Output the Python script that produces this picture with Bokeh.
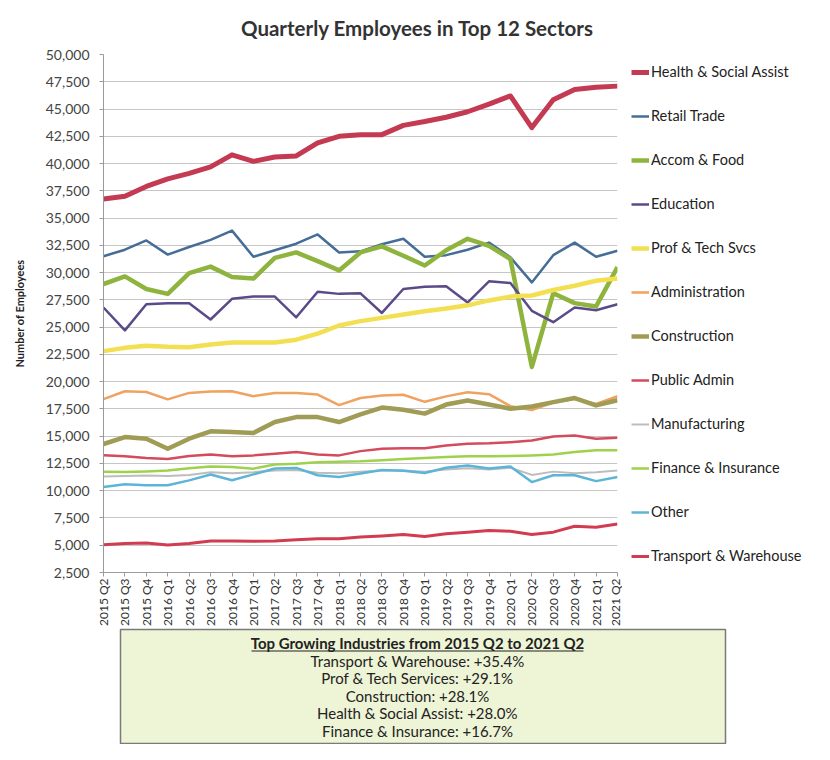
import math
from bokeh.plotting import figure
from bokeh.layouts import column, row
from bokeh.models import (Range1d, FixedTicker, NumeralTickFormatter, Legend,
                          LegendItem, Label, BoxAnnotation)
from bokeh.embed import file_html
from bokeh.resources import INLINE

quarters = ["2015 Q2", "2015 Q3", "2015 Q4",
            "2016 Q1", "2016 Q2", "2016 Q3", "2016 Q4",
            "2017 Q1", "2017 Q2", "2017 Q3", "2017 Q4",
            "2018 Q1", "2018 Q2", "2018 Q3", "2018 Q4",
            "2019 Q1", "2019 Q2", "2019 Q3", "2019 Q4",
            "2020 Q1", "2020 Q2", "2020 Q3", "2020 Q4",
            "2021 Q1", "2021 Q2"]

health = [36750, 37000, 37900, 38600, 39100, 39700, 40800, 40200, 40600, 40700,
          41900, 42500, 42650, 42650, 43500, 43850, 44250, 44750, 45450, 46200,
          43300, 45850, 46800, 47000, 47100]
retail = [31500, 32100, 32950, 31650, 32350, 33000, 33850, 31450, 32050, 32650,
          33500, 31850, 31950, 32600, 33100, 31450, 31600, 32100, 32750, 31400,
          29100, 31600, 32750, 31450, 32000]
accom = [28950, 29650, 28500, 28050, 29950, 30550, 29600, 29450, 31350, 31850,
         31050, 30200, 31850, 32400, 31550, 30650, 32050, 33100, 32450, 31250,
         21350, 28100, 27200, 26900, 30500]
education = [26800, 24700, 27100, 27200, 27200, 25700, 27600, 27800, 27800, 25900,
             28250, 28050, 28100, 26300, 28500, 28700, 28750, 27250, 29200, 29050,
             26500, 25450, 26800, 26550, 27100]
prof_tech = [22800, 23100, 23300, 23200, 23150, 23400, 23600, 23600, 23600, 23850,
             24400, 25150, 25550, 25850, 26150, 26450, 26700, 27000, 27450, 27800,
             27900, 28400, 28800, 29250, 29450]
administration = [18400, 19120, 19050, 18380, 18970, 19090, 19120, 18670, 18970, 18950,
                  18820, 17850, 18500, 18720, 18800, 18150, 18650, 19030, 18850, 17750,
                  17400, 18080, 18420, 17950, 18660]
construction = [14280, 14920, 14770, 13850, 14770, 15450, 15380, 15300, 16300, 16750,
                16750, 16300, 17000, 17620, 17430, 17070, 17900, 18270, 17900, 17520,
                17720, 18120, 18500, 17820, 18300]
public_admin = [13250, 13150, 13000, 12900, 13180, 13330, 13150, 13240, 13390, 13540,
                13330, 13240, 13630, 13850, 13900, 13900, 14150, 14300, 14350, 14450,
                14600, 14970, 15060, 14770, 14850]
manufacturing = [11300, 11350, 11400, 11350, 11450, 11700, 11600, 11700, 11850, 11900,
                 11650, 11600, 11750, 11850, 11850, 11750, 11950, 12050, 11950, 12100,
                 11450, 11750, 11600, 11700, 11850]
finance = [11740, 11720, 11770, 11860, 12070, 12230, 12170, 12020, 12410, 12470,
           12600, 12650, 12700, 12800, 12900, 12990, 13080, 13150, 13150, 13180,
           13240, 13330, 13540, 13720, 13700]
other = [10350, 10600, 10500, 10500, 10950, 11480, 10960, 11500, 12030, 12090,
         11420, 11260, 11570, 11900, 11820, 11620, 12110, 12320, 12030, 12230,
         10790, 11420, 11420, 10880, 11260]
transport = [5050, 5150, 5200, 5030, 5150, 5380, 5380, 5360, 5380, 5510,
             5600, 5600, 5750, 5850, 5980, 5800, 6050, 6200, 6350, 6290,
             5980, 6200, 6740, 6650, 6950]

series_names = ["Health & Social Assist", "Retail Trade", "Accom & Food", "Education",
                "Prof & Tech Svcs", "Administration", "Construction", "Public Admin",
                "Manufacturing", "Finance & Insurance", "Other", "Transport & Warehouse"]
series_values = [health, retail, accom, education, prof_tech, administration,
                 construction, public_admin, manufacturing, finance, other, transport]

y_ticks = list(range(2500, 50001, 2500))

chart_title = "Quarterly Employees in Top 12 Sectors"
y_title = "Number of Employees"
box_title = "Top Growing Industries from 2015 Q2 to 2021 Q2"
box_lines = ["Transport & Warehouse: +35.4%",
             "Prof & Tech Services: +29.1%",
             "Construction: +28.1%",
             "Health & Social Assist: +28.0%",
             "Finance & Insurance: +16.7%"]

colors = ["#c43a52", "#456d97", "#8fb43e", "#5b4a8a", "#f3df52", "#f0a261",
          "#a09b55", "#d34b5c", "#bdbdbd", "#9fd24c", "#5cb5d6", "#d23c50"]
widths = [5, 2.5, 4.5, 2.5, 4.5, 2.5, 4.5, 2.5, 2, 2.5, 2.5, 3]

FONT = "Lato"
TOTAL_W = 814
TITLE_H = 40
MAIN_W = 622
TOP_B, BOT_B = 14, 56
MAIN_H = TOP_B + 518 + BOT_B
BOX_H = 744 - TITLE_H - MAIN_H
BL, BR = 120, 725


def bare(fig):
    fig.grid.visible = False
    fig.outline_line_color = None
    fig.border_fill_color = "white"
    fig.background_fill_color = "white"


# ---------------- title strip (x data = page pixels) ----------------
pt = figure(width=TOTAL_W, height=TITLE_H, output_backend="svg", toolbar_location=None,
            x_axis_location=None, y_axis_location=None,
            x_range=Range1d(BL, BR), y_range=Range1d(0, TITLE_H),
            min_border_left=BL, min_border_right=TOTAL_W - BR,
            min_border_top=0, min_border_bottom=0)
bare(pt)
pt.add_layout(Label(x=417, y=TITLE_H - 27, text=chart_title, text_align="center",
                    text_baseline="middle", text_font=FONT, text_font_style="bold",
                    text_font_size="20.5px", text_color="#333333"))

# ---------------- main chart ----------------
p = figure(width=MAIN_W, height=MAIN_H, output_backend="svg", toolbar_location=None,
           title=None,
           x_range=Range1d(0, len(quarters) - 1), y_range=Range1d(2500, 50000),
           min_border_left=103, min_border_top=TOP_B, min_border_right=5,
           min_border_bottom=BOT_B)
p.outline_line_color = None
p.background_fill_color = "white"
p.border_fill_color = "white"

xs = list(range(len(quarters)))
for vals, c, w in zip(series_values, colors, widths):
    p.line(x=xs, y=vals, line_color=c, line_width=w, line_join="round")

p.xaxis.ticker = FixedTicker(ticks=xs)
p.xaxis.major_label_overrides = {i: q for i, q in enumerate(quarters)}
p.xaxis.major_label_orientation = math.pi / 2
p.xaxis.major_label_text_font = FONT
p.xaxis.major_label_text_font_size = "12px"
p.xaxis.major_label_text_color = "#333333"
p.xaxis.axis_line_color = "#9a9a9a"
p.xaxis.major_tick_line_color = "#9a9a9a"
p.xaxis.major_tick_out = 4
p.xaxis.major_tick_in = 0
p.xaxis.minor_tick_line_color = None
p.xaxis.major_label_standoff = 2

p.yaxis.ticker = FixedTicker(ticks=y_ticks)
p.yaxis.formatter = NumeralTickFormatter(format="0,0")
p.yaxis.major_label_text_font = FONT
p.yaxis.major_label_text_font_size = "14px"
p.yaxis.major_label_text_color = "#444444"
p.yaxis.axis_line_color = "#9a9a9a"
p.yaxis.major_tick_line_color = "#9a9a9a"
p.yaxis.major_tick_out = 4
p.yaxis.major_tick_in = 0
p.yaxis.minor_tick_line_color = None
p.yaxis.major_label_standoff = 10
p.yaxis.axis_label = y_title
p.yaxis.axis_label_text_font = FONT
p.yaxis.axis_label_text_font_style = "bold"
p.yaxis.axis_label_text_font_size = "11px"
p.yaxis.axis_label_text_color = "#222222"
p.yaxis.axis_label_standoff = 17

p.xgrid.visible = False
p.ygrid.ticker = FixedTicker(ticks=y_ticks)
p.ygrid.grid_line_color = "#c6c6c6"
p.ygrid.grid_line_width = 1

# ---------------- legend panel ----------------
pl = figure(width=TOTAL_W - MAIN_W, height=MAIN_H, output_backend="svg",
            toolbar_location=None, x_axis_location=None, y_axis_location=None,
            x_range=Range1d(100, 101), y_range=Range1d(0, 1),
            min_border_left=0, min_border_top=TOP_B, min_border_right=0,
            min_border_bottom=BOT_B)
bare(pl)
items = []
for name, vals, c, w in zip(series_names, series_values, colors, widths):
    r = pl.line(x=xs, y=vals, line_color=c, line_width=w)
    items.append(LegendItem(label=name, renderers=[r]))
legend = Legend(items=items, location="top_left", orientation="vertical",
                label_text_font=FONT, label_text_font_size="14.5px",
                label_text_color="#222222", glyph_width=18, glyph_height=16,
                label_height=16, spacing=27, label_standoff=2,
                padding=0, margin=9, border_line_color=None,
                background_fill_alpha=0)
pl.add_layout(legend)

# ---------------- summary box ----------------
BW, BHF = BR - BL, BOX_H - 2
pb = figure(width=TOTAL_W, height=BOX_H, output_backend="svg", toolbar_location=None,
            x_axis_location=None, y_axis_location=None,
            x_range=Range1d(0, BW), y_range=Range1d(0, BHF),
            min_border_left=BL, min_border_right=TOTAL_W - BR,
            min_border_top=1, min_border_bottom=1)
pb.grid.visible = False
pb.background_fill_color = "#eef4d6"
pb.border_fill_color = "white"
pb.outline_line_color = "#7a7a7a"
pb.outline_line_width = 1.5

cx = 417 - BL
title_y = BHF - 13
pb.add_layout(Label(x=cx, y=title_y, text=box_title, text_align="center",
                    text_baseline="middle", text_font=FONT, text_font_style="bold",
                    text_font_size="15px", text_color="#222222"))
pb.add_layout(BoxAnnotation(left=cx - 166, right=cx + 166, bottom=title_y - 9.1,
                            top=title_y - 7.9,
                            fill_color="#222222", fill_alpha=1, line_color=None))
for k, txt in enumerate(box_lines):
    pb.add_layout(Label(x=cx, y=title_y - 18 - 17.6 * k, text=txt, text_align="center",
                        text_baseline="middle", text_font=FONT,
                        text_font_size="15px", text_color="#222222"))

layout = column(pt, row(p, pl), pb)
open("out.html", "w").write(file_html(layout, INLINE))
